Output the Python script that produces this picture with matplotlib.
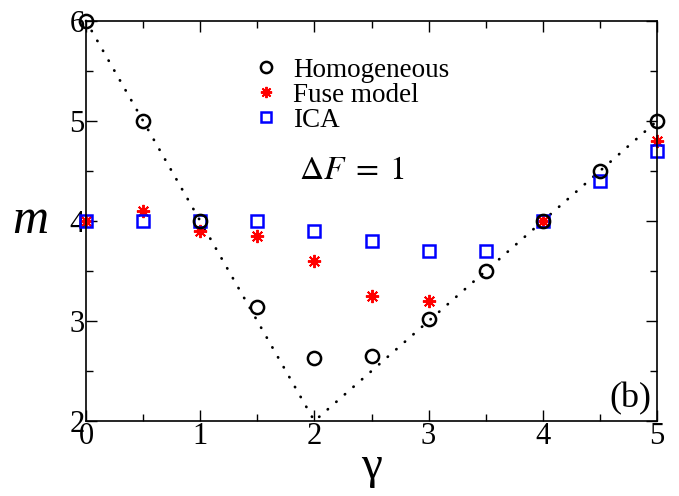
import numpy as np
import matplotlib.pyplot as plt

plt.rcParams['font.family'] = ['Liberation Serif', 'DejaVu Serif']
plt.rcParams['mathtext.fontset'] = 'stix'

# data
gamma = [0, 0.5, 1, 1.5, 2, 2.5, 3, 3.5, 4, 4.5, 5]
m_homog = [6.0, 5.0, 4.0, 3.14, 2.63, 2.65, 3.02, 3.5, 4.0, 4.5, 5.0]

gamma_fuse = [0, 0.5, 1, 1.5, 2, 2.5, 3, 4, 5]
m_fuse = [4.0, 4.1, 3.9, 3.85, 3.6, 3.25, 3.2, 4.0, 4.8]

m_ica = [4.0, 4.0, 4.0, 4.0, 3.9, 3.8, 3.7, 3.7, 4.0, 4.4, 4.7]

# guide line m = max(6 - 2*gamma, gamma)
guide_x = [0, 2, 5]
guide_y = [6, 2, 5]

fig = plt.figure(figsize=(6.79, 4.96), dpi=100)
ax = fig.add_axes([0.1267, 0.1512, 0.8409, 0.8065])

ax.plot(guide_x, guide_y, color='black', lw=2.0, linestyle=(0, (0.1, 4.0)),
        dash_capstyle='round', zorder=1, clip_on=False)

ax.plot(gamma, m_homog, 'o', ms=9.5, mfc='none', mec='black', mew=1.8,
        label='Homogeneous', zorder=3, clip_on=False)
ax.plot(gamma_fuse, m_fuse, ls='none', marker=(8, 2, 0), ms=9.5, mec='red',
        mew=1.4, label='Fuse model', zorder=2, clip_on=False)
ax.plot(gamma, m_ica, 's', ms=8.5, mfc='none', mec='blue', mew=1.8,
        label='ICA', zorder=2, clip_on=False)

ax.set_xlim(0, 5)
ax.set_ylim(2, 6)
ax.set_xticks(np.arange(0, 6, 1))
ax.set_xticks(np.arange(0, 5.01, 0.5), minor=True)
ax.set_yticks(np.arange(2, 7, 1))
ax.set_yticks(np.arange(2, 6.01, 0.5), minor=True)
ax.tick_params(which='both', direction='in', top=True, right=True,
               labelsize=22, width=1.0)
ax.tick_params(which='major', length=8)
ax.tick_params(which='minor', length=5)
ax.tick_params(axis='y', pad=1)
ax.tick_params(axis='x', pad=1)
for s in ax.spines.values():
    s.set_linewidth(1.2)

ax.set_xlabel('γ', fontsize=34, labelpad=-4)
ax.set_ylabel('m', fontsize=36, fontstyle='italic', rotation=0,
              labelpad=28, va='center')

ax.text(2.33, 4.5, r'$\Delta F\;=\;1$', fontsize=24, ha='center', va='center')
ax.text(0.99, 0.015, '(b)', transform=ax.transAxes, fontsize=26,
        ha='right', va='bottom')

ax.legend(loc='upper left', bbox_to_anchor=(0.258, 0.955), frameon=False,
          fontsize=19.5, labelspacing=0.0, handlelength=1.0,
          handletextpad=0.5, borderpad=0.2, markerscale=0.85)

fig.savefig('out.png', dpi=100)
